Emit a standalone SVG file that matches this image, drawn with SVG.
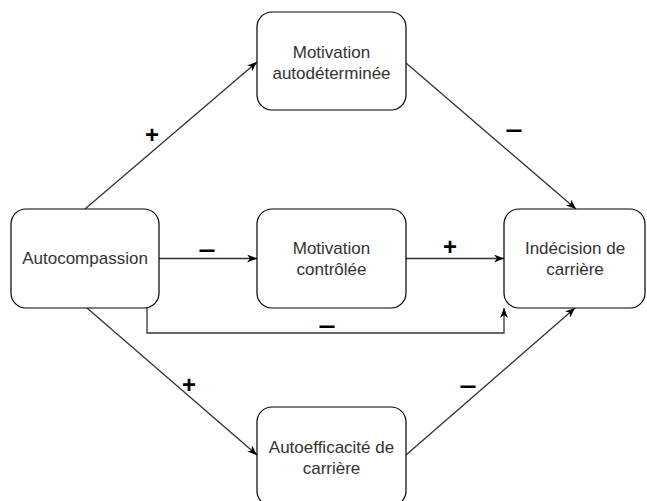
<svg xmlns="http://www.w3.org/2000/svg" width="647" height="501" viewBox="0 0 647 501">
<style>
.node rect{fill:#fff;stroke:#000;stroke-width:1.2}
.node text{font-family:"Liberation Sans",Arial,sans-serif;font-size:17px;fill:#333;text-anchor:middle}
.edge{fill:none;stroke:#333;stroke-width:1.3}
.lbl{font-family:"Liberation Sans",Arial,sans-serif;font-size:24px;font-weight:bold;fill:#000;text-anchor:middle}
</style>
<defs>
<marker id="arr" viewBox="0 0 10 8" refX="10" refY="4" markerWidth="10" markerHeight="8" markerUnits="userSpaceOnUse" orient="auto">
<path d="M0,0 L10,4 L0,8 L3,4 Z" fill="#000"/>
</marker>
</defs>
<rect width="647" height="501" fill="#fff"/>
<g id="connectors">
<line class="edge" x1="85" y1="209" x2="257" y2="62" marker-end="url(#arr)"/>
<line class="edge" x1="406" y1="63" x2="576" y2="209" marker-end="url(#arr)"/>
<line class="edge" x1="159" y1="258.5" x2="257" y2="258.5" marker-end="url(#arr)"/>
<line class="edge" x1="406" y1="258.5" x2="504" y2="258.5" marker-end="url(#arr)"/>
<path class="edge" d="M147,308 V333 H504 V308" marker-end="url(#arr)"/>
<line class="edge" x1="87" y1="308" x2="257" y2="455" marker-end="url(#arr)"/>
<line class="edge" x1="406" y1="455" x2="575" y2="308" marker-end="url(#arr)"/>
<text class="lbl" x="152" y="143">+</text>
<text class="lbl" x="514" y="137" textLength="17" lengthAdjust="spacingAndGlyphs">–</text>
<text class="lbl" x="207" y="257" textLength="17" lengthAdjust="spacingAndGlyphs">–</text>
<text class="lbl" x="450" y="255">+</text>
<text class="lbl" x="327" y="333" textLength="17" lengthAdjust="spacingAndGlyphs">–</text>
<text class="lbl" x="189" y="393">+</text>
<text class="lbl" x="468" y="393" textLength="17" lengthAdjust="spacingAndGlyphs">–</text>
</g>
<g id="autocompassion" class="node">
<rect x="11" y="209" width="148" height="99" rx="15"/>
<text x="85" y="264">Autocompassion</text>
</g>
<g id="motivation-autodeterminee" class="node">
<rect x="257" y="12" width="149" height="98" rx="15"/>
<text x="331.5" y="58">Motivation</text>
<text x="331.5" y="79">autodéterminée</text>
</g>
<g id="motivation-controlee" class="node">
<rect x="257" y="209" width="149" height="99" rx="15"/>
<text x="331.5" y="254">Motivation</text>
<text x="331.5" y="275">contrôlée</text>
</g>
<g id="indecision" class="node">
<rect x="504" y="209" width="141" height="99" rx="15"/>
<text x="575" y="254">Indécision de</text>
<text x="575" y="275">carrière</text>
</g>
<g id="autoefficacite" class="node">
<rect x="257" y="407" width="149" height="99" rx="15"/>
<text x="331.5" y="453">Autoefficacité de</text>
<text x="331.5" y="474">carrière</text>
</g>
</svg>
